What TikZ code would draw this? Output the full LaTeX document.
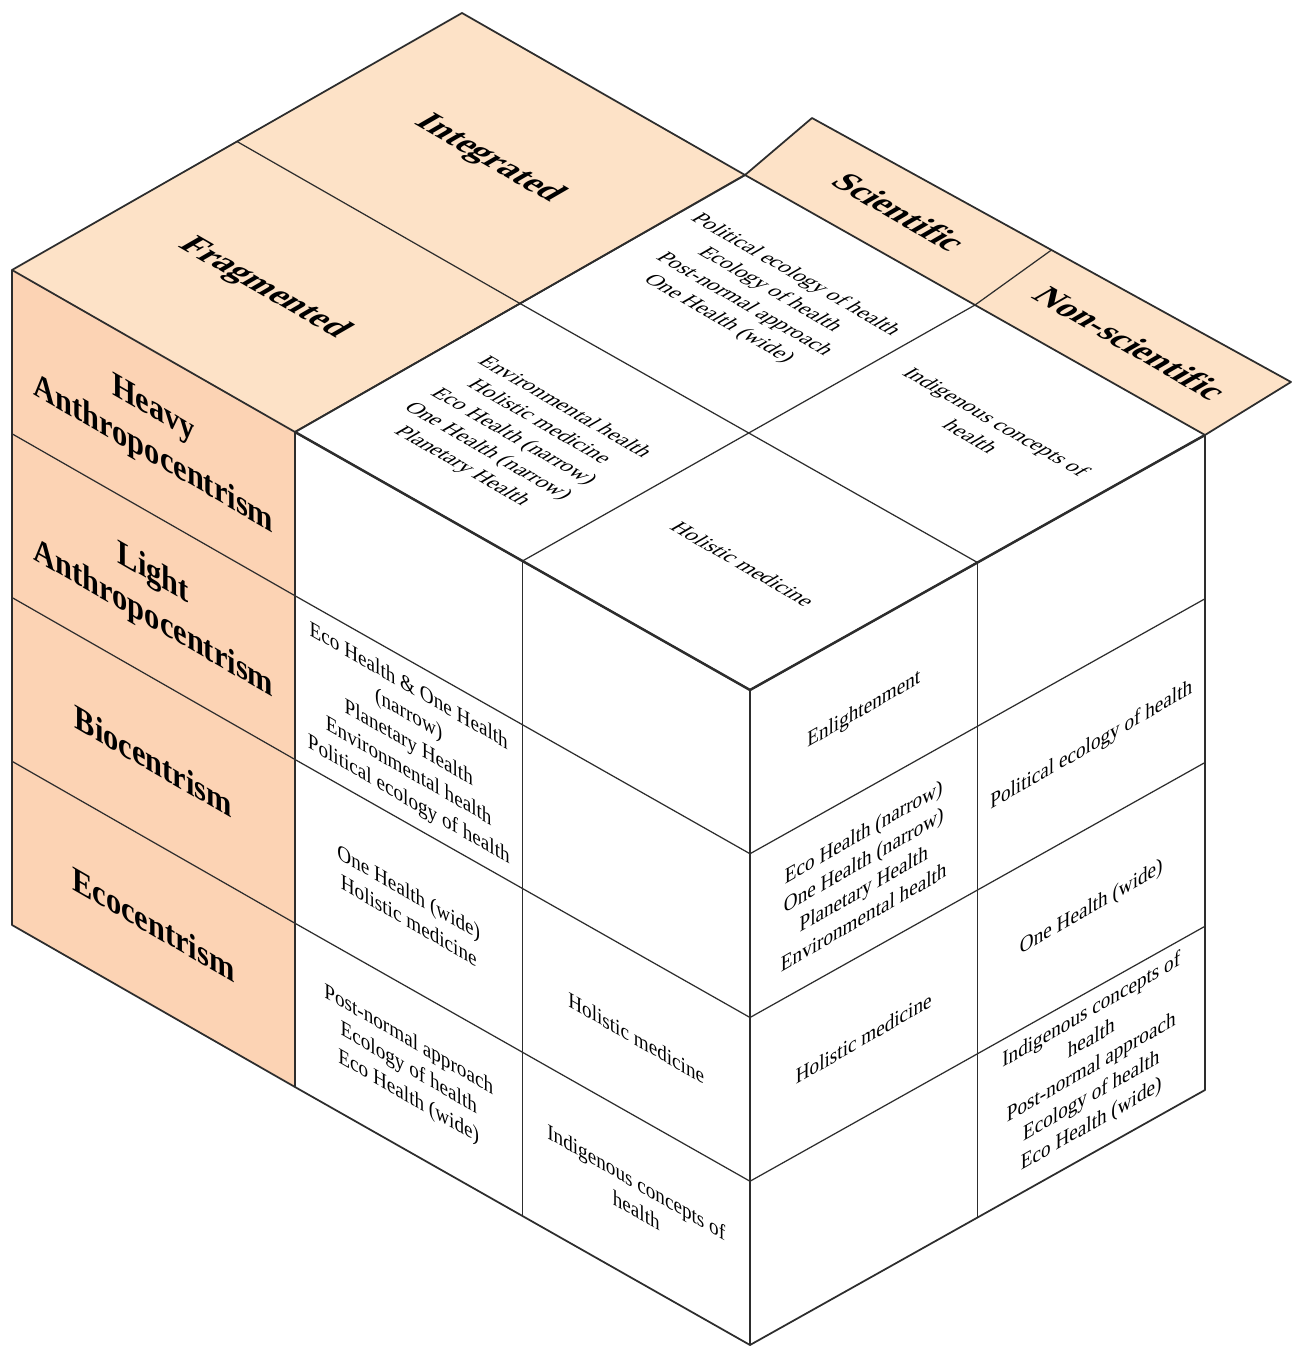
\documentclass[tikz,border=0pt]{standalone}
\usepackage{fontspec}
\setmainfont{Liberation Serif}
\usetikzlibrary{calc}
\definecolor{panel}{RGB}{252,211,180}
\definecolor{flap}{RGB}{253,226,199}
\definecolor{edge}{RGB}{45,45,45}
\begin{document}
\begin{tikzpicture}[x=0.02cm,y=-0.02cm,
  lf/.style={cm={0.866,-0.5,0,1,(0,0)}, align=center, inner sep=0pt, font=\fontsize{12.6}{16.2}\selectfont},
  rf/.style={cm={0.866,0.5,0,1,(0,0)}, align=center, inner sep=0pt, font=\fontsize{12.6}{16.2}\selectfont},
  tf/.style={cm={0.866,-0.5,0.866,0.5,(0,0)}, align=center, inner sep=0pt, font=\fontsize{12.6}{16.8}\selectfont},
  hdr/.style={font=\fontsize{20}{26}\selectfont\bfseries},
  ln/.style={draw=edge, line width=0.7pt, line join=round},
  outer/.style={draw=edge, line width=1pt, line join=round},
]
\useasboundingbox (0,0) rectangle (1293,1349);
% key points
\coordinate (L) at (295,432);
\coordinate (F) at (750,690);
\coordinate (R) at (1205,435);
\coordinate (B) at (745,175);
\coordinate (Lb) at (295,1087);
\coordinate (Fb) at (750,1345);
\coordinate (Rb) at (1205,1090);
\coordinate (Lp) at (12,270);
\coordinate (Lpb) at (12,925);
\coordinate (Bp) at (462,13);
\coordinate (S1) at (812,118);
\coordinate (N1) at (1291,382);
\coordinate (mLB) at ($(L)!0.5!(B)$);
\coordinate (mLF) at ($(L)!0.5!(F)$);
\coordinate (mFR) at ($(F)!0.5!(R)$);
\coordinate (mBR) at ($(B)!0.5!(R)$);
\coordinate (mLpBp) at ($(Lp)!0.5!(Bp)$);
\coordinate (mS1N1) at ($(S1)!0.5!(N1)$);
\coordinate (mLFb) at ($(Lb)!0.5!(Fb)$);
\coordinate (mFRb) at ($(Fb)!0.5!(Rb)$);

% fills
\fill[panel] (Lp) -- (L) -- (Lb) -- (Lpb) -- cycle;
\fill[flap] (Lp) -- (Bp) -- (B) -- (L) -- cycle;
\fill[flap] (B) -- (S1) -- (N1) -- (R) -- cycle;
\fill[white] (L) -- (B) -- (R) -- (F) -- cycle;
\fill[white] (L) -- (F) -- (Fb) -- (Lb) -- cycle;
\fill[white] (F) -- (R) -- (Rb) -- (Fb) -- cycle;

% rows on panel, left face and right face
\foreach \r in {1,2,3} {
  \draw[ln] ($(Lp)!\r/4!(Lpb)$) -- ($(L)!\r/4!(Lb)$);
  \draw[ln] ($(L)!\r/4!(Lb)$) -- ($(F)!\r/4!(Fb)$);
  \draw[ln] ($(F)!\r/4!(Fb)$) -- ($(R)!\r/4!(Rb)$);
}
% flap dividers
\draw[ln] (mLpBp) -- (mLB);
\draw[ln] (mBR) -- (mS1N1);
% top face midlines
\draw[ln] (mLB) -- (mFR);
\draw[ln] (mLF) -- (mBR);
% vertical dividers
\draw[ln] (mLF) -- (mLFb);
\draw[ln] (mFR) -- (mFRb);
% outlines
\draw[outer] (Lp) -- (L) -- (Lb) -- (Lpb) -- cycle;
\draw[outer] (Lp) -- (Bp) -- (B) -- (L);
\draw[outer] (B) -- (S1) -- (N1) -- (R);
\draw[outer] (L) -- (B) -- (R) -- (F) -- cycle;
\draw[outer] (F) -- (Fb) -- (Lb);
\draw[outer] (Fb) -- (Rb) -- (R);
\draw[draw=edge, line width=1.4pt] (L) -- (F) -- (R);
\draw[draw=edge, line width=1.4pt] (F) -- (Fb);

% panel headers
\node[lf,hdr] (heavy) at (153.5,433) {Heavy\\Anthropocentrism};
\node[lf,hdr] (light) at (153.5,597) {Light\\Anthropocentrism};
\node[lf,hdr] (bio) at (153.5,761) {Biocentrism};
\node[lf,hdr] (ecoc) at (153.5,924) {Ecocentrism};
% top flap headers
\node[tf,hdr] (frag) at (264,288) {Fragmented};
\node[tf,hdr] (integ) at (489,159) {Integrated};
\node[tf,hdr] (sci) at (900,212) {Scientific};
\node[tf,hdr] (nonsci) at (1131,343) {Non-scientific};

% top face
\node[tf] (t1) at (757,297) {Political ecology of health\\Ecology of health\\Post-normal approach\\One Health (wide)};
\node[tf] (t2) at (513,437) {Environmental health\\Holistic medicine\\Eco Health (narrow)\\One Health (narrow)\\Planetary Health};
\node[tf] (t3) at (984,429) {Indigenous concepts of\\health};
\node[tf] (t4) at (743,564) {Holistic medicine};

% left face
\node[lf] (l1) at (408.75,744) {Eco Health \& One Health\\(narrow)\\Planetary Health\\Environmental health\\Political ecology of health};
\node[lf] (l2) at (408.75,906) {One Health (wide)\\Holistic medicine};
\node[lf] (l3) at (408.75,1069) {Post-normal approach\\Ecology of health\\Eco Health (wide)};
\node[lf] (l4) at (636.25,1038) {Holistic medicine};
\node[lf] (l5) at (636.25,1196) {Indigenous concepts of\\health};

% right face
\node[rf] (r1) at (863.75,710) {Enlightenment};
\node[rf] (r2) at (863.75,874) {Eco Health (narrow)\\One Health (narrow)\\Planetary Health\\Environmental health};
\node[rf] (r3) at (863.75,1038) {Holistic medicine};
\node[rf] (r4) at (1091.25,746) {Political ecology of health};
\node[rf] (r5) at (1091.25,908) {One Health (wide)};
\node[rf] (r6) at (1091.25,1068) {Indigenous concepts of\\health\\Post-normal approach\\Ecology of health\\Eco Health (wide)};
\end{tikzpicture}
\end{document}
